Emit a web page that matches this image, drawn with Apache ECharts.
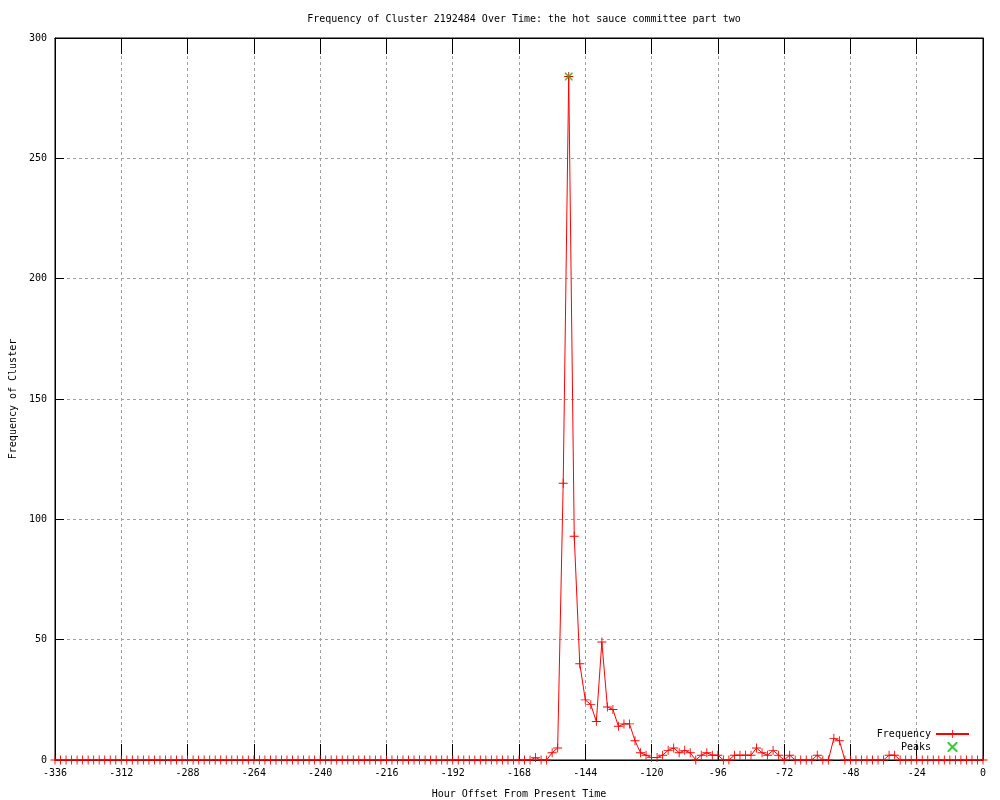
<!DOCTYPE html>
<html>
<head>
<meta charset="utf-8">
<script src="https://cdn.jsdelivr.net/npm/echarts@6/dist/echarts.min.js"></script>
<style>html,body{margin:0;padding:0;background:#fff;}#c{width:1000px;height:800px;}</style>
</head>
<body>
<div id="c"></div>
<script>
const titleText = 'Frequency of Cluster 2192484 Over Time: the hot sauce committee part two';
const xName = 'Hour Offset From Present Time';
const yName = 'Frequency of Cluster';

const hours = [
  -336,-334,-332,-330,-328,-326,-324,-322,-320,-318,-316,-314,
  -312,-310,-308,-306,-304,-302,-300,-298,-296,-294,-292,-290,
  -288,-286,-284,-282,-280,-278,-276,-274,-272,-270,-268,-266,
  -264,-262,-260,-258,-256,-254,-252,-250,-248,-246,-244,-242,
  -240,-238,-236,-234,-232,-230,-228,-226,-224,-222,-220,-218,
  -216,-214,-212,-210,-208,-206,-204,-202,-200,-198,-196,-194,
  -192,-190,-188,-186,-184,-182,-180,-178,-176,-174,-172,-170,
  -168,-166,-164,-162,-160,-158,-156,-154,-152,-150,-148,-146,
  -144,-142,-140,-138,-136,-134,-132,-130,-128,-126,-124,-122,
  -120,-118,-116,-114,-112,-110,-108,-106,-104,-102,-100,-98,
  -96,-94,-92,-90,-88,-86,-84,-82,-80,-78,-76,-74,
  -72,-70,-68,-66,-64,-62,-60,-58,-56,-54,-52,-50,
  -48,-46,-44,-42,-40,-38,-36,-34,-32,-30,-28,-26,
  -24,-22,-20,-18,-16,-14,-12,-10,-8,-6,-4,-2,
  0
];
const frequency = [
  0,0,0,0,0,0,0,0,0,0,0,0,
  0,0,0,0,0,0,0,0,0,0,0,0,
  0,0,0,0,0,0,0,0,0,0,0,0,
  0,0,0,0,0,0,0,0,0,0,0,0,
  0,0,0,0,0,0,0,0,0,0,0,0,
  0,0,0,0,0,0,0,0,0,0,0,0,
  0,0,0,0,0,0,0,0,0,0,0,0,
  0,0,0,1,0,0,3,5,115,284,93,40,
  25,23,16,49,22,21,14,15,15,8,3,2,
  1,1,2,4,5,3,4,3,0,2,3,2,
  2,0,0,2,2,2,2,5,3,2,4,2,
  0,2,0,0,0,0,2,0,0,9,8,0,
  0,0,0,0,0,0,0,2,2,0,0,0,
  0,0,0,0,0,0,0,0,0,0,0,0,
  0
];
const peakHours = [-150];
const peakValues = [284];

const plusPath = 'path://M0,4.5L10,4.5L10,5.5L0,5.5Z M4.5,0L5.5,0L5.5,10L4.5,10Z';
const crossPath = 'path://M0,0L1.4,0L10,8.6L10,10L8.6,10L0,1.4Z M10,0L10,1.4L1.4,10L0,10L0,8.6L8.6,0Z';
const font = '"DejaVu Sans Mono", monospace';

const chart = echarts.init(document.getElementById('c'), null, {renderer: 'canvas'});
const freqData = hours.map((h, i) => [h, frequency[i]]);
const peakData = peakHours.map((h, i) => [h, peakValues[i]]);

const gridLine = {show: true, lineStyle: {color: '#a0a0a0', type: [3, 3], width: 1}};
chart.setOption({
  animation: false,
  backgroundColor: '#ffffff',
  textStyle: {fontFamily: font},
  title: {
    text: titleText,
    left: 519, top: 9, textAlign: 'center',
    textStyle: {fontFamily: font, fontSize: 10, fontWeight: 'normal', color: '#000'}
  },
  grid: {left: 55, right: 17, top: 38, bottom: 40, show: true, borderColor: '#000', borderWidth: 1,
         backgroundColor: 'transparent', containLabel: false, outerBoundsMode: 'none'},
  legend: {
    orient: 'vertical', right: 25, top: 724, align: 'right',
    itemWidth: 33, itemHeight: 10, itemGap: 3,
    textStyle: {fontFamily: font, fontSize: 10, color: '#000'},
    data: ['Frequency', 'Peaks']
  },
  xAxis: [{
    type: 'value', min: -336, max: 0, interval: 24, position: 'bottom',
    name: xName, nameLocation: 'middle', nameGap: 29,
    nameTextStyle: {fontFamily: font, fontSize: 10, color: '#000'},
    axisLine: {show: true, onZero: false, lineStyle: {color: '#000', width: 1}},
    axisTick: {show: true, inside: true, length: 16, lineStyle: {color: '#000'}},
    axisLabel: {fontFamily: font, fontSize: 10, color: '#000', margin: 8},
    splitLine: gridLine
  }, {
    type: 'value', min: -336, max: 0, interval: 24, position: 'top',
    axisLine: {show: true, onZero: false, lineStyle: {color: '#000', width: 1}},
    axisTick: {show: true, inside: true, length: 16, lineStyle: {color: '#000'}},
    axisLabel: {show: false}, splitLine: {show: false}
  }],
  yAxis: [{
    type: 'value', min: 0, max: 300, interval: 50, position: 'left',
    name: yName, nameLocation: 'middle', nameGap: 37, nameRotate: 90,
    nameTextStyle: {fontFamily: font, fontSize: 10, color: '#000'},
    axisLine: {show: true, onZero: false, lineStyle: {color: '#000', width: 1}},
    axisTick: {show: true, inside: true, length: 9, lineStyle: {color: '#000'}},
    axisLabel: {fontFamily: font, fontSize: 10, color: '#000', margin: 8},
    splitLine: gridLine
  }, {
    type: 'value', min: 0, max: 300, interval: 50, position: 'right',
    axisLine: {show: true, onZero: false, lineStyle: {color: '#000', width: 1}},
    axisTick: {show: true, inside: true, length: 9, lineStyle: {color: '#000'}},
    axisLabel: {show: false}, splitLine: {show: false}
  }],
  series: [{
    name: 'Frequency', type: 'line', data: freqData,
    xAxisIndex: 0, yAxisIndex: 0,
    showSymbol: true, showAllSymbol: true,
    symbol: plusPath, symbolSize: 9,
    lineStyle: {color: '#ff0000', width: 1},
    itemStyle: {color: '#ff0000'},
    z: 3
  }, {
    name: 'Peaks', type: 'scatter', data: peakData,
    xAxisIndex: 0, yAxisIndex: 0,
    symbol: crossPath, symbolSize: 8,
    itemStyle: {color: '#00c000'},
    z: 4
  }]
});
</script>
</body>
</html>
